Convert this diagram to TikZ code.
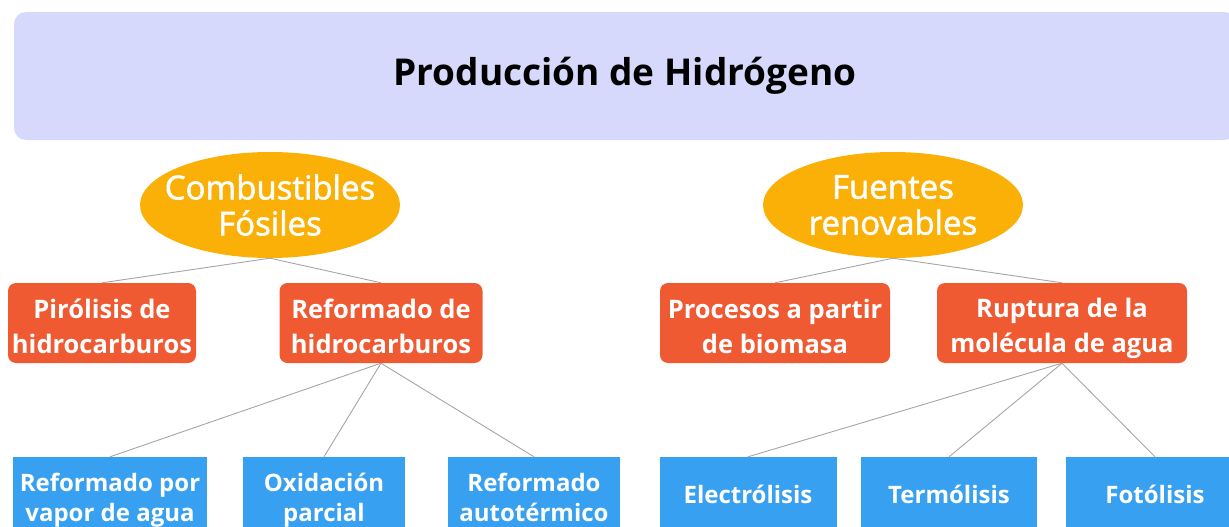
\documentclass[tikz,border=0pt]{standalone}
\usepackage{fontspec}
\setmainfont{Open Sans}
\newfontfamily\medfont{Open Sans}[FakeBold=1.6]
\usepackage{tikz}
\usetikzlibrary{shapes.geometric,positioning}
\definecolor{banner}{RGB}{215,217,252}
\definecolor{fuentecol}{RGB}{250,176,6}
\definecolor{procesocol}{RGB}{240,90,50}
\definecolor{metodocol}{RGB}{56,160,240}
\definecolor{enlacecol}{RGB}{165,165,165}
\newcommand{\arriba}[1]{\rule{0pt}{#1}}
\newcommand{\abajo}{\rule[-6pt]{0pt}{6pt}}
\tikzset{
  titulo/.style={fill=banner,rounded corners=12pt,minimum width=1222pt,minimum height=128pt,
    font=\fontsize{37}{40}\selectfont\bfseries},
  fuente/.style={ellipse,fill=fuentecol,text=white,align=center,inner xsep=-28pt,inner ysep=-12pt,
    minimum width=260pt,minimum height=106pt,font=\fontsize{33}{36}\selectfont\medfont},
  proceso/.style={fill=procesocol,text=white,align=center,rounded corners=8pt,minimum height=80pt,
    inner sep=0pt,font=\fontsize{25.5}{35}\selectfont\bfseries,
    execute at begin node=\arriba{66pt},execute at end node=\abajo},
  metodo/.style={fill=metodocol,text=white,align=center,minimum height=76pt,
    inner sep=0pt,font=\fontsize{24}{30}\selectfont\bfseries,execute at end node=\abajo},
  uno/.style={metodo,execute at begin node=\arriba{22pt}},
  dos/.style={metodo,execute at begin node=\arriba{59pt}},
  enlace/.style={draw=enlacecol,line width=0.9pt}
}
\begin{document}
\begin{tikzpicture}[x=1pt,y=-1pt]
  \useasboundingbox (0,0) rectangle (1229,527);
  \clip (0,0) rectangle (1229,527);
  \node[titulo] (tit) at (625,76) {Producción de Hidrógeno};

  \node[fuente] (fos) at (270,205) {Combustibles\\Fósiles};
  \node[fuente] (ren) at (893,205) {Fuentes\\renovables};

  \node[proceso,minimum width=188pt] (pir) at (102,323) {Pirólisis de\\hidrocarburos};
  \node[proceso,minimum width=203pt] (ref) at (381,323) {Reformado de\\hidrocarburos};
  \node[proceso,minimum width=230pt] (bio) at (775,323) {Procesos a partir\\de biomasa};
  \node[proceso,minimum width=250pt] (rup) at (1062,323) {Ruptura de la\\molécula de agua};

  \node[dos,minimum width=194pt] (vap) at (110,495) {Reformado por\\vapor de agua};
  \node[dos,minimum width=162pt] (oxi) at (324,495) {Oxidación\\parcial};
  \node[dos,minimum width=172pt] (aut) at (534,495) {Reformado\\autotérmico};
  \node[uno,minimum width=177pt] (ele) at (748,495) {Electrólisis};
  \node[uno,minimum width=176pt] (ter) at (949,495) {Termólisis};
  \node[uno,minimum width=178pt] (fot) at (1155,495) {Fotólisis};

  \draw[enlace] (fos.south) -- (pir.north);
  \draw[enlace] (fos.south) -- (ref.north);
  \draw[enlace] (ren.south) -- (bio.north);
  \draw[enlace] (ren.south) -- (rup.north);
  \foreach \m in {vap,oxi,aut}
    \draw[enlace] (ref.south) -- (\m.north);
  \foreach \m in {ele,ter,fot}
    \draw[enlace] (rup.south) -- (\m.north);
\end{tikzpicture}
\end{document}
